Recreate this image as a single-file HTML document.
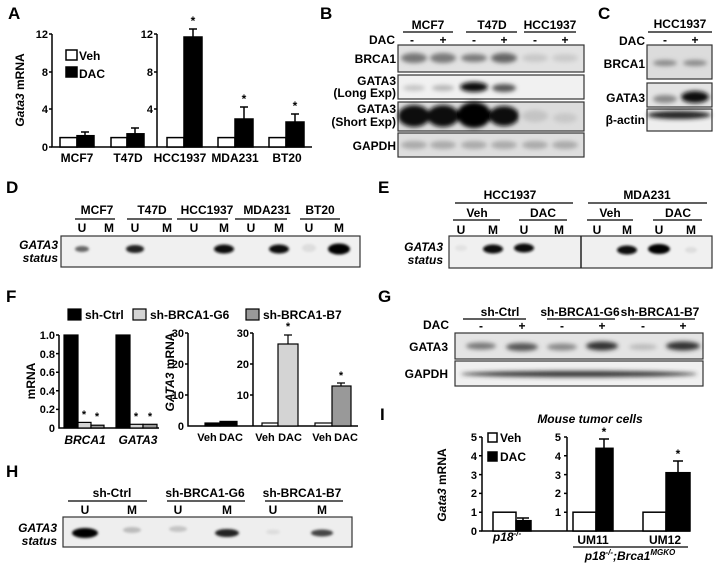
<!DOCTYPE html>
<html><head><meta charset="utf-8"><style>
html,body{margin:0;padding:0;background:#fff;}
svg{display:block;font-family:"Liberation Sans",Arial,sans-serif;font-weight:bold;}
</style></head><body>
<svg width="718" height="570" viewBox="0 0 718 570" xmlns="http://www.w3.org/2000/svg">
<defs>
<filter id="b" x="-50%" y="-100%" width="200%" height="300%"><feGaussianBlur stdDeviation="2.2"/></filter>
<filter id="b2" x="-50%" y="-100%" width="200%" height="300%"><feGaussianBlur stdDeviation="1.4"/></filter>
</defs>
<g font-size="17" fill="#000">
<text x="8" y="19">A</text><text x="320" y="19">B</text><text x="598" y="19">C</text>
<text x="6" y="193">D</text><text x="378" y="193">E</text>
<text x="6" y="302">F</text><text x="378" y="302">G</text>
<text x="6" y="477">H</text><text x="380" y="420">I</text>
</g>

<!-- Panel A -->
<g stroke="#000" stroke-width="1.5" fill="none">
<path d="M52 34V147H312M157 34V147"/>
<path d="M49 34H52M49 72H52M49 109H52M49 147H52M154 34H157M154 72H157M154 109H157"/>
</g>
<g font-size="11" text-anchor="end">
<text x="48" y="38">12</text><text x="48" y="76">8</text><text x="48" y="113">4</text><text x="48" y="151">0</text>
<text x="153" y="38">12</text><text x="153" y="76">8</text><text x="153" y="113">4</text>
</g>
<text transform="translate(24,90) rotate(-90)" font-size="12" text-anchor="middle"><tspan font-style="italic">Gata3</tspan> mRNA</text>
<g stroke="#000" stroke-width="1.5">
<rect x="60" y="137.6" width="17" height="9.4" fill="#fff"/><rect x="77" y="135.7" width="17" height="11.3"/>
<rect x="111" y="137.6" width="16" height="9.4" fill="#fff"/><rect x="127" y="133.8" width="17" height="13.2"/>
<rect x="167" y="137.6" width="17" height="9.4" fill="#fff"/><rect x="184" y="37" width="18" height="110"/>
<rect x="218" y="137.6" width="17" height="9.4" fill="#fff"/><rect x="235" y="119" width="18" height="28"/>
<rect x="269" y="137.6" width="17" height="9.4" fill="#fff"/><rect x="286" y="122" width="18" height="25"/>
<path d="M85 136V132M81 132H89M135 134V128M131 128H139M193 37V29M189 29H197M244 119V107M240 107H248M295 122V114M291 114H299" fill="none"/>
<rect x="66" y="50" width="11" height="10" fill="#fff"/><rect x="66" y="67" width="11" height="10"/>
</g>
<g font-size="12"><text x="79" y="60">Veh</text><text x="79" y="78">DAC</text></g>
<g font-size="12" text-anchor="middle">
<text x="193" y="25">*</text><text x="244" y="103">*</text><text x="295" y="110">*</text>
<text x="77" y="162">MCF7</text><text x="128" y="162">T47D</text><text x="180" y="162">HCC1937</text><text x="235" y="162">MDA231</text><text x="287" y="162">BT20</text>
</g>

<!-- Panel B -->
<g font-size="12" text-anchor="middle">
<text x="428" y="29">MCF7</text><text x="492" y="29">T47D</text><text x="550" y="29">HCC1937</text>
<text x="412" y="44">-</text><text x="443" y="44">+</text><text x="474" y="44">-</text><text x="504" y="44">+</text><text x="535" y="44">-</text><text x="565" y="44">+</text>
</g>
<path d="M403 32H453M466 32H517M524 32H576" stroke="#000" stroke-width="1.3"/>
<g font-size="12" text-anchor="end">
<text x="395" y="44">DAC</text><text x="396" y="63">BRCA1</text><text x="396" y="85">GATA3</text><text x="396" y="97">(Long Exp)</text>
<text x="396" y="113">GATA3</text><text x="396" y="126">(Short Exp)</text><text x="396" y="150">GAPDH</text>
</g>
<g stroke="#333" stroke-width="1.2">
<rect x="398" y="45" width="186" height="27" fill="#e2e2e2"/>
<rect x="398" y="75" width="186" height="24" fill="#f1f1f1"/>
<rect x="398" y="102" width="186" height="29" fill="#dcdcdc"/>
<rect x="398" y="133" width="186" height="24" fill="#dedede"/>
</g>
<g filter="url(#b)">
<ellipse cx="414" cy="58" rx="13" ry="5" fill="#777"/><ellipse cx="443" cy="58" rx="13" ry="5" fill="#7a7a7a"/>
<ellipse cx="474" cy="58" rx="13" ry="4" fill="#7a7a7a"/><ellipse cx="504" cy="58" rx="13" ry="5" fill="#666"/>
<ellipse cx="535" cy="58" rx="13" ry="4" fill="#c8c8c8"/><ellipse cx="565" cy="58" rx="13" ry="4" fill="#cbcbcb"/>
<ellipse cx="414" cy="88" rx="11" ry="3" fill="#c4c4c4"/><ellipse cx="443" cy="88" rx="11" ry="3" fill="#b5b5b5"/>
<ellipse cx="474" cy="87" rx="14" ry="5" fill="#111"/><ellipse cx="504" cy="88" rx="12" ry="4" fill="#555"/>
<ellipse cx="414" cy="116" rx="16" ry="11" fill="#111"/><ellipse cx="443" cy="116" rx="16" ry="11" fill="#111"/>
<ellipse cx="474" cy="115" rx="17" ry="13" fill="#000"/><ellipse cx="504" cy="116" rx="15" ry="10" fill="#111"/>
<ellipse cx="535" cy="116" rx="13" ry="6" fill="#c4c4c4"/><ellipse cx="565" cy="118" rx="12" ry="5" fill="#c8c8c8"/>
<ellipse cx="414" cy="145" rx="13" ry="4" fill="#aaa"/><ellipse cx="443" cy="145" rx="13" ry="4" fill="#aaa"/>
<ellipse cx="474" cy="145" rx="13" ry="4" fill="#aaa"/><ellipse cx="504" cy="145" rx="13" ry="4" fill="#aaa"/>
<ellipse cx="535" cy="145" rx="13" ry="4" fill="#aaa"/><ellipse cx="565" cy="145" rx="13" ry="4" fill="#aaa"/>
</g>

<!-- Panel C -->
<g font-size="12" text-anchor="middle">
<text x="680" y="28">HCC1937</text><text x="665" y="44">-</text><text x="695" y="44">+</text>
</g>
<path d="M648 32H712" stroke="#000" stroke-width="1.3"/>
<g font-size="12" text-anchor="end">
<text x="645" y="45">DAC</text><text x="645" y="68">BRCA1</text><text x="645" y="102">GATA3</text><text x="645" y="124">β-actin</text>
</g>
<g stroke="#333" stroke-width="1.2">
<rect x="647" y="45" width="65" height="34" fill="#dcdcdc"/>
<rect x="647" y="83" width="65" height="24" fill="#e4e4e4"/>
<rect x="647" y="109" width="65" height="22" fill="#eee"/>
</g>
<g filter="url(#b)">
<ellipse cx="665" cy="63" rx="12" ry="3" fill="#888"/><ellipse cx="695" cy="63" rx="12" ry="3" fill="#888"/>
<ellipse cx="665" cy="99" rx="12" ry="4" fill="#888"/><ellipse cx="695" cy="97" rx="14" ry="6" fill="#111"/>
<ellipse cx="679" cy="115" rx="32" ry="4" fill="#222"/>
</g>

<!-- Panel D -->
<g font-size="12" text-anchor="middle">
<text x="97" y="214">MCF7</text><text x="152" y="214">T47D</text><text x="207" y="214">HCC1937</text><text x="267" y="214">MDA231</text><text x="320" y="214">BT20</text>
<text x="82" y="232">U</text><text x="109" y="232">M</text><text x="135" y="232">U</text><text x="167" y="232">M</text><text x="194" y="232">U</text><text x="224" y="232">M</text><text x="251" y="232">U</text><text x="279" y="232">M</text><text x="309" y="232">U</text><text x="339" y="232">M</text>
</g>
<path d="M75 219H115M127 219H172M177 219H228M235 219H287M300 219H340" stroke="#000" stroke-width="1.3"/>
<g font-size="12" font-style="italic" text-anchor="end"><text x="58" y="249">GATA3</text><text x="58" y="262">status</text></g>
<rect x="61" y="236" width="299" height="31" fill="#f0f0f0" stroke="#333" stroke-width="1.2"/>
<g filter="url(#b2)">
<ellipse cx="82" cy="249" rx="7" ry="3" fill="#666"/><ellipse cx="135" cy="249" rx="9" ry="4" fill="#222"/>
<ellipse cx="224" cy="249" rx="10" ry="4.5" fill="#111"/><ellipse cx="279" cy="249" rx="10" ry="4.5" fill="#111"/>
<ellipse cx="339" cy="249" rx="11" ry="5.5" fill="#000"/><ellipse cx="309" cy="248" rx="7" ry="4" fill="#ddd"/>
</g>

<!-- Panel E -->
<g font-size="12" text-anchor="middle">
<text x="510" y="199">HCC1937</text><text x="647" y="199">MDA231</text>
<text x="477" y="217">Veh</text><text x="543" y="217">DAC</text><text x="610" y="217">Veh</text><text x="678" y="217">DAC</text>
<text x="461" y="234">U</text><text x="493" y="234">M</text><text x="524" y="234">U</text><text x="559" y="234">M</text><text x="597" y="234">U</text><text x="627" y="234">M</text><text x="659" y="234">U</text><text x="691" y="234">M</text>
</g>
<path d="M455 203H573M588 203H707M453 220H500M519 220H567M587 220H633M653 220H702" stroke="#000" stroke-width="1.3"/>
<g font-size="12" font-style="italic" text-anchor="end"><text x="443" y="251">GATA3</text><text x="443" y="264">status</text></g>
<rect x="449" y="236" width="263" height="32" fill="#f0f0f0" stroke="#333" stroke-width="1.2"/>
<path d="M581 236V268" stroke="#222" stroke-width="1.5"/>
<g filter="url(#b2)">
<ellipse cx="493" cy="249" rx="10" ry="4.5" fill="#111"/><ellipse cx="524" cy="248" rx="10" ry="4.5" fill="#111"/>
<ellipse cx="627" cy="250" rx="10" ry="4.5" fill="#111"/><ellipse cx="659" cy="249" rx="11" ry="5" fill="#000"/>
<ellipse cx="691" cy="250" rx="6" ry="3" fill="#ddd"/><ellipse cx="461" cy="248" rx="6" ry="3" fill="#e2e2e2"/>
</g>

<!-- Panel F -->
<g stroke="#000" stroke-width="1.2">
<rect x="68" y="309" width="13" height="11"/><rect x="133" y="309" width="13" height="11" fill="#d4d4d4"/><rect x="246" y="309" width="13" height="11" fill="#999"/>
</g>
<g font-size="12"><text x="85" y="319">sh-Ctrl</text><text x="150" y="319">sh-BRCA1-G6</text><text x="263" y="319">sh-BRCA1-B7</text></g>
<g stroke="#000" stroke-width="1.5" fill="none">
<path d="M59 335V428H159M56 335H59M56 353.6H59M56 372.2H59M56 390.8H59M56 409.4H59"/>
<path d="M188 333V426H358M253 333V426M185 333H188M185 364H188M185 395H188M250 333H253M250 364H253M250 395H253"/>
</g>
<g font-size="11" text-anchor="end">
<text x="55" y="339">1.0</text><text x="55" y="358">0.8</text><text x="55" y="376">0.6</text><text x="55" y="395">0.4</text><text x="55" y="413">0.2</text><text x="55" y="432">0</text>
<text x="184" y="337">30</text><text x="184" y="368">20</text><text x="184" y="399">10</text><text x="184" y="430">0</text>
<text x="249" y="337">30</text><text x="249" y="368">20</text><text x="249" y="399">10</text>
</g>
<text transform="translate(35,381) rotate(-90)" font-size="12" text-anchor="middle">mRNA</text>
<text transform="translate(174,372) rotate(-90)" font-size="12" text-anchor="middle"><tspan font-style="italic">GATA3</tspan> mRNA</text>
<g stroke="#000" stroke-width="1.2">
<rect x="64" y="335" width="14" height="93"/><rect x="78" y="422.4" width="13" height="5.6" fill="#d4d4d4"/><rect x="91" y="425.2" width="13" height="2.8" fill="#999"/>
<rect x="116" y="335" width="14" height="93"/><rect x="130" y="424.3" width="13" height="3.7" fill="#d4d4d4"/><rect x="143" y="424.3" width="14" height="3.7" fill="#999"/>
<rect x="205" y="423" width="15" height="3"/><rect x="220" y="421.4" width="17" height="4.6"/>
<rect x="262" y="423" width="16" height="3" fill="#fff"/><rect x="278" y="344" width="20" height="82" fill="#d4d4d4"/>
<rect x="315" y="423" width="17" height="3" fill="#fff"/><rect x="332" y="386" width="19" height="40" fill="#999"/>
<path d="M288 344V335M284 335H292M341 386V383M337 383H345" fill="none"/>
</g>
<g font-size="11" text-anchor="middle">
<text x="84" y="418">*</text><text x="97" y="420">*</text><text x="136" y="420">*</text><text x="150" y="420">*</text>
<text x="288" y="330">*</text><text x="341" y="379">*</text>
</g>
<g font-size="12" text-anchor="middle">
<text x="85" y="444" font-style="italic">BRCA1</text><text x="138" y="444" font-style="italic">GATA3</text>
</g>
<g font-size="11" text-anchor="middle">
<text x="207" y="441">Veh</text><text x="231" y="441">DAC</text><text x="265" y="441">Veh</text><text x="290" y="441">DAC</text><text x="322" y="441">Veh</text><text x="346" y="441">DAC</text>
</g>

<!-- Panel G -->
<g font-size="12" text-anchor="middle">
<text x="500" y="316">sh-Ctrl</text><text x="580" y="316">sh-BRCA1-G6</text><text x="660" y="316">sh-BRCA1-B7</text>
<text x="481" y="330">-</text><text x="522" y="330">+</text><text x="562" y="330">-</text><text x="602" y="330">+</text><text x="643" y="330">-</text><text x="683" y="330">+</text>
</g>
<path d="M463 319H526M547 319H615M630 319H695" stroke="#000" stroke-width="1.3"/>
<g font-size="12" text-anchor="end"><text x="449" y="329">DAC</text><text x="448" y="351">GATA3</text><text x="448" y="378">GAPDH</text></g>
<g stroke="#333" stroke-width="1.2">
<rect x="455" y="333" width="248" height="26" fill="#e4e4e4"/><rect x="455" y="361" width="248" height="25" fill="#f0f0f0"/>
</g>
<g filter="url(#b)">
<ellipse cx="481" cy="346" rx="15" ry="3.5" fill="#777"/><ellipse cx="522" cy="347" rx="16" ry="4" fill="#555"/>
<ellipse cx="562" cy="347" rx="15" ry="3.5" fill="#888"/><ellipse cx="602" cy="346" rx="16" ry="4.5" fill="#333"/>
<ellipse cx="643" cy="347" rx="14" ry="3" fill="#bbb"/><ellipse cx="683" cy="346" rx="17" ry="4.5" fill="#333"/>
<ellipse cx="579" cy="374" rx="118" ry="3" fill="#333"/>
</g>

<!-- Panel H -->
<g font-size="12" text-anchor="middle">
<text x="112" y="497">sh-Ctrl</text><text x="205" y="497">sh-BRCA1-G6</text><text x="302" y="497">sh-BRCA1-B7</text>
<text x="85" y="514">U</text><text x="132" y="514">M</text><text x="178" y="514">U</text><text x="227" y="514">M</text><text x="273" y="514">U</text><text x="322" y="514">M</text>
</g>
<path d="M68 501H147M167 501H245M265 501H343" stroke="#000" stroke-width="1.3"/>
<g font-size="12" font-style="italic" text-anchor="end"><text x="57" y="532">GATA3</text><text x="57" y="545">status</text></g>
<rect x="63" y="517" width="289" height="30" fill="#eeeeee" stroke="#333" stroke-width="1.2"/>
<g filter="url(#b2)">
<ellipse cx="85" cy="533" rx="13" ry="5" fill="#000"/><ellipse cx="132" cy="530" rx="9" ry="3" fill="#bbb"/>
<ellipse cx="178" cy="529" rx="9" ry="3" fill="#c4c4c4"/><ellipse cx="227" cy="533" rx="12" ry="4" fill="#222"/>
<ellipse cx="273" cy="532" rx="7" ry="2.5" fill="#ddd"/><ellipse cx="322" cy="533" rx="11" ry="3.5" fill="#444"/>
</g>

<!-- Panel I -->
<text x="590" y="423" font-size="12" font-style="italic" text-anchor="middle">Mouse tumor cells</text>
<g stroke="#000" stroke-width="1.5" fill="none">
<path d="M482 437V531H690M567 437V531"/>
<path d="M479 437H482M479 455.8H482M479 474.6H482M479 493.4H482M479 512.2H482M479 531H482M564 437H567M564 455.8H567M564 474.6H567M564 493.4H567M564 512.2H567"/>
</g>
<g font-size="11" text-anchor="end">
<text x="477" y="441">5</text><text x="477" y="460">4</text><text x="477" y="479">3</text><text x="477" y="497">2</text><text x="477" y="516">1</text><text x="477" y="535">0</text>
<text x="561" y="441">5</text><text x="561" y="460">4</text><text x="561" y="479">3</text><text x="561" y="497">2</text><text x="561" y="516">1</text>
</g>
<text transform="translate(446,485) rotate(-90)" font-size="12" text-anchor="middle"><tspan font-style="italic">Gata3</tspan> mRNA</text>
<g stroke="#000" stroke-width="1.5">
<rect x="493" y="512.2" width="23" height="18.8" fill="#fff"/><rect x="516" y="520.7" width="15" height="10.3"/>
<rect x="573" y="512.2" width="23" height="18.8" fill="#fff"/><rect x="596" y="448.3" width="17" height="82.7"/>
<rect x="643" y="512.2" width="23" height="18.8" fill="#fff"/><rect x="666" y="472.7" width="24" height="58.3"/>
<path d="M523 521V518M517 518H529M604 448V439M599 439H609M678 473V461M673 461H683" fill="none"/>
<rect x="488" y="433" width="9" height="9" fill="#fff"/><rect x="488" y="452" width="9" height="9"/>
</g>
<g font-size="12"><text x="500" y="442">Veh</text><text x="500" y="461">DAC</text></g>
<g font-size="12" text-anchor="middle">
<text x="604" y="436">*</text><text x="678" y="458">*</text>
<text x="593" y="544">UM11</text><text x="665" y="544">UM12</text>
<text x="507" y="541" font-style="italic">p18<tspan font-size="8" dy="-5">-/-</tspan></text>
<text x="630" y="560" font-style="italic">p18<tspan font-size="8" dy="-5">-/-</tspan><tspan dy="5">;Brca1</tspan><tspan font-size="8" dy="-5">MGKO</tspan></text>
</g>
<path d="M573 547H688" stroke="#000" stroke-width="1.3"/>
</svg>
</body></html>
